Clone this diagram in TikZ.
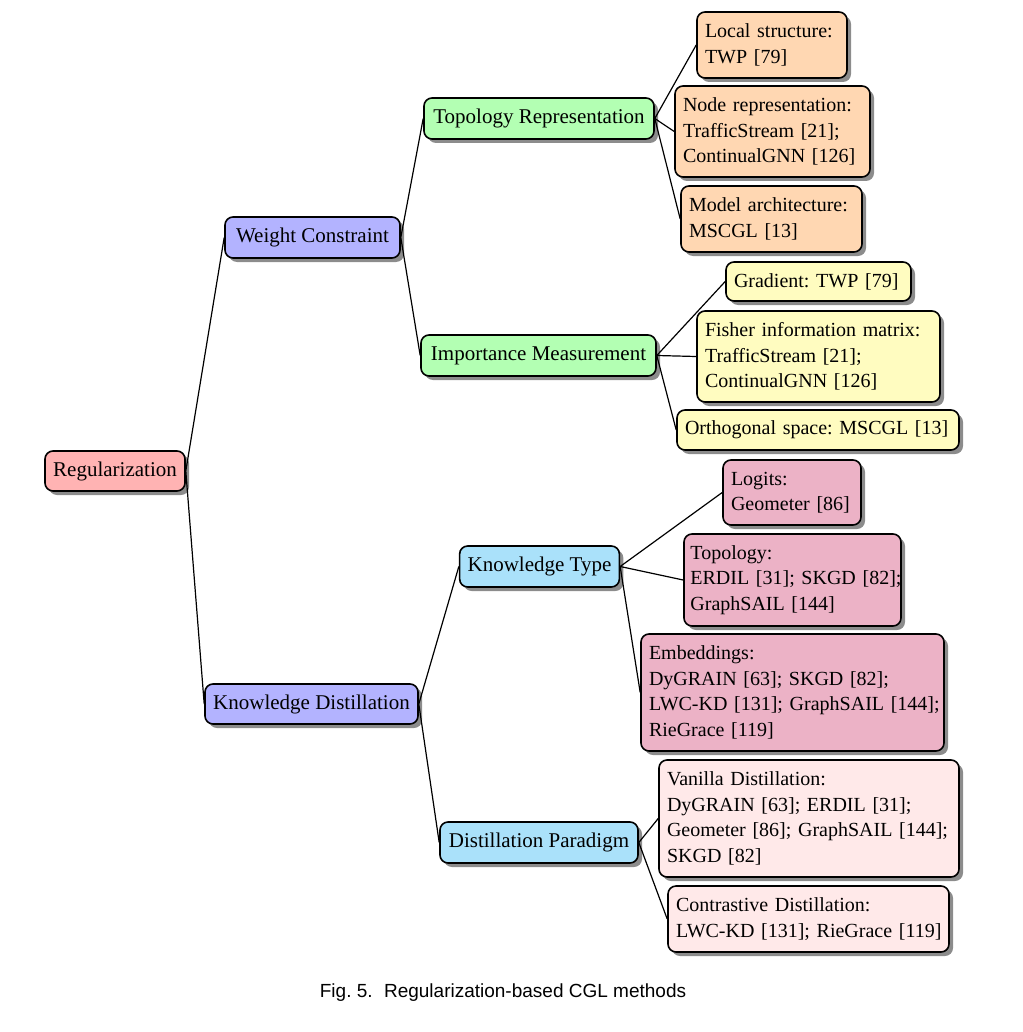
\documentclass[tikz,border=0pt]{standalone}
\usepackage{fontspec}
\setmainfont{Liberation Serif}
\newfontfamily\capfont{Liberation Sans}
\usetikzlibrary{shadows}
\frenchspacing
\definecolor{cRed}{RGB}{255,179,179}
\definecolor{cBlue}{RGB}{179,179,255}
\definecolor{cGreen}{RGB}{179,255,179}
\definecolor{cSky}{RGB}{170,225,250}
\definecolor{cOrange}{RGB}{255,215,178}
\definecolor{cYellow}{RGB}{255,252,192}
\definecolor{cPink}{RGB}{236,178,198}
\definecolor{cRose}{RGB}{255,233,233}
\newcommand\lline[1]{\makebox[\linewidth][l]{#1}}
\tikzset{
  box/.style={draw=black, line width=0.8pt, rounded corners=4pt,
    inner xsep=4pt, inner ysep=2pt,
    font=\fontsize{10.5}{12.75}\selectfont\frenchspacing,
    drop shadow={shadow xshift=2pt, shadow yshift=-2pt, fill=black!45, opacity=1}},
  inner/.style={box, align=center},
  leaf/.style={box, align=left, font=\fontsize{10}{12.75}\selectfont\frenchspacing},
  edge/.style={draw=black, line width=0.6pt}
}
\begin{document}
\begin{tikzpicture}[x=0.5pt, y=-0.5pt]
\useasboundingbox (0,0) rectangle (1022,1032);
% level 0
\node[inner, fill=cRed, minimum width=70pt, minimum height=20pt] (reg) at (115,471) {Regularization};
% level 1
\node[inner, fill=cBlue, minimum width=87.5pt, minimum height=20.5pt] (wc) at (312.5,237.5) {Weight Constraint};
\node[inner, fill=cBlue, minimum width=106.5pt, minimum height=20pt] (kd) at (311.5,704) {Knowledge Distillation};
% level 2
\node[inner, fill=cGreen, minimum width=115pt, minimum height=20.5pt] (tr) at (539,118.5) {Topology Representation};
\node[inner, fill=cGreen, minimum width=117.5pt, minimum height=20.5pt] (im) at (538.5,355.5) {Importance Measurement};
\node[inner, fill=cSky, minimum width=79.5pt, minimum height=20.5pt] (kt) at (539.5,566.5) {Knowledge Type};
\node[inner, fill=cSky, minimum width=99pt, minimum height=20.5pt] (dp) at (539,842.5) {Distillation Paradigm};
% leaves: topology representation
\node[leaf, fill=cOrange, text width=67pt, minimum height=33pt] (l1) at (772,45) {\lline{Local structure:}\\\lline{TWP [79]}};
\node[leaf, fill=cOrange, text width=89.5pt, minimum height=45.5pt] (l2) at (772.5,131.5) {\lline{Node representation:}\\\lline{TrafficStream [21];}\\\lline{ContinualGNN [126]}};
\node[leaf, fill=cOrange, text width=82.5pt, minimum height=33pt] (l3) at (771.5,219) {\lline{Model architecture:}\\\lline{MSCGL [13]}};
% leaves: importance measurement
\node[leaf, fill=cYellow, text width=84.5pt, minimum height=19.5pt] (l4) at (818.5,281.5) {\lline{Gradient: TWP [79]}};
\node[leaf, fill=cYellow, text width=113.5pt, minimum height=45.5pt] (l5) at (818.5,356.5) {\lline{Fisher information matrix:}\\\lline{TrafficStream [21];}\\\lline{ContinualGNN [126]}};
\node[leaf, fill=cYellow, text width=133pt, minimum height=20pt] (l6) at (818,430) {\lline{Orthogonal space: MSCGL [13]}};
% leaves: knowledge type
\node[leaf, fill=cPink, text width=61pt, minimum height=32.5pt] (l7) at (792,492.5) {\lline{Logits:}\\\lline{Geometer [86]}};
\node[leaf, fill=cPink, inner xsep=3.2pt, text width=102.1pt, minimum height=46pt] (l8) at (792.5,580) {\lline{Topology:}\\\lline{ERDIL [31]; SKGD [82];}\\\lline{GraphSAIL [144]}};
\node[leaf, fill=cPink, text width=143.5pt, minimum height=58.5pt] (l9) at (792.5,692.5) {\lline{Embeddings:}\\\lline{DyGRAIN [63]; SKGD [82];}\\\lline{LWC-KD [131]; GraphSAIL [144];}\\\lline{RieGrace [119]}};
% leaves: distillation paradigm
\node[leaf, fill=cRose, text width=142pt, minimum height=58.5pt] (l10) at (809,818.5) {\lline{Vanilla Distillation:}\\\lline{DyGRAIN [63]; ERDIL [31];}\\\lline{Geometer [86]; GraphSAIL [144];}\\\lline{SKGD [82]}};
\node[leaf, fill=cRose, text width=132.5pt, minimum height=33pt] (l11) at (808.5,919) {\lline{Contrastive Distillation:}\\\lline{LWC-KD [131]; RieGrace [119]}};
% edges
\draw[edge] (reg.east) -- (wc.west);
\draw[edge] (reg.east) -- (kd.west);
\draw[edge] (wc.east) -- (tr.west);
\draw[edge] (wc.east) -- (im.west);
\draw[edge] (kd.east) -- (kt.west);
\draw[edge] (kd.east) -- (dp.west);
\draw[edge] (tr.east) -- (l1.west);
\draw[edge] (tr.east) -- (l2.west);
\draw[edge] (tr.east) -- (l3.west);
\draw[edge] (im.east) -- (l4.west);
\draw[edge] (im.east) -- (l5.west);
\draw[edge] (im.east) -- (l6.west);
\draw[edge] (kt.east) -- (l7.west);
\draw[edge] (kt.east) -- (l8.west);
\draw[edge] (kt.east) -- (l9.west);
\draw[edge] (dp.east) -- (l10.west);
\draw[edge] (dp.east) -- (l11.west);
% caption
\node[font=\capfont\fontsize{9.5}{11}\selectfont, inner sep=0pt] (cap) at (503,993) {Fig.~5.\hspace{0.6em}Regularization-based CGL methods};
\end{tikzpicture}
\end{document}
